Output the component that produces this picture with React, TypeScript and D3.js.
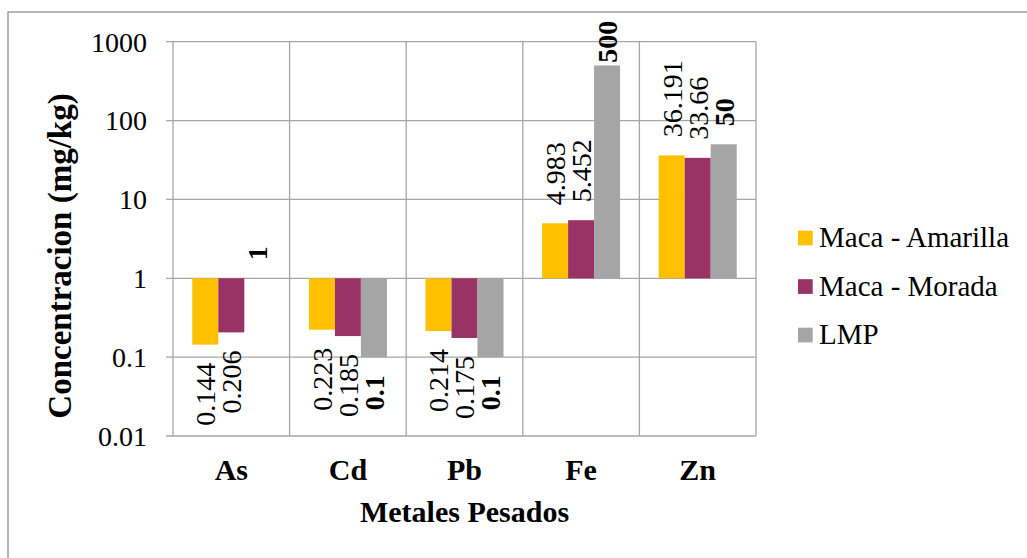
import React from 'react';
import * as d3 from 'd3';

const categories = ['As', 'Cd', 'Pb', 'Fe', 'Zn'];
const seriesNames = ['Maca - Amarilla', 'Maca - Morada', 'LMP'];
const amarilla = [0.144, 0.223, 0.214, 4.983, 36.191];
const morada = [0.206, 0.185, 0.175, 5.452, 33.66];
const lmp = [1, 0.1, 0.1, 500, 50];
const yTicks = [0.01, 0.1, 1, 10, 100, 1000];

const colors = ['#FFC000', '#993366', '#A5A5A5'];
const seriesValues = [amarilla, morada, lmp];
const boldSeries = [false, false, true];

const W = 1027;
const H = 558;
const left = 173;
const right = 756;
const top = 41.7;
const bottom = 436;
const ts = { fontFamily: '"Liberation Serif"' };
const gridColor = '#a6a6a6';

// rough width of a numeric label, digits 0.5em and the dot 0.25em
function labelLen(s: string, fs: number) {
  let n = 0;
  for (const ch of s) n += ch === '.' ? 0.25 : 0.5;
  return n * fs;
}

export default function App() {
  const y = d3.scaleLog().domain([0.01, 1000]).range([bottom, top]);
  const x0 = d3.scaleBand().domain(categories).range([left, right]);
  const x1 = d3.scaleBand().domain(seriesNames).range([0, x0.bandwidth()]).paddingOuter(0.742);
  const base = y(1);
  const labelFs = 28;
  const gap = 18;

  return (
    <svg width={W} height={H} style={{ position: 'absolute', left: 0, top: 0, background: '#fff' }}>
      <rect x={8} y={12} width={1100} height={700} fill="none" stroke="#a0a0a0" strokeWidth={1.5} />

      {yTicks.map(t => (
        <g key={'yt' + t}>
          <line x1={166} x2={right} y1={y(t)} y2={y(t)} stroke={gridColor} strokeWidth={1.3} />
          <text x={147} y={y(t)} dy="0.35em" textAnchor="end" fontSize={28} style={ts}>{String(t)}</text>
        </g>
      ))}

      {[...categories.map(c => x0(c) as number), right].map((gx, i) => (
        <line key={'vg' + i} x1={gx} x2={gx} y1={top} y2={bottom} stroke={gridColor} strokeWidth={1.3} />
      ))}

      {seriesValues.map((vals, si) =>
        vals.map((v, ci) => {
          const bx = (x0(categories[ci]) as number) + (x1(seriesNames[si]) as number);
          const yv = y(v);
          return (
            <rect key={'b' + si + ci} x={bx} y={Math.min(yv, base)} width={x1.bandwidth()}
              height={Math.abs(base - yv)} fill={colors[si]} />
          );
        })
      )}

      {seriesValues.map((vals, si) =>
        vals.map((v, ci) => {
          const cx = (x0(categories[ci]) as number) + (x1(seriesNames[si]) as number) + x1.bandwidth() / 2;
          const s = String(v);
          const yv = y(v);
          let ty: number;
          let anchor: string;
          if (v < 1) {
            ty = yv + gap;
            anchor = 'end';
          } else {
            ty = yv - gap;
            const len = labelLen(s, labelFs);
            if (ty - len < 20.7) ty = 20.7 + len;
            anchor = 'start';
          }
          return (
            <text key={'l' + si + ci} transform={`translate(${cx},${ty}) rotate(-90)`} dy="0.35em"
              textAnchor={anchor} fontSize={labelFs} fontWeight={boldSeries[si] ? 'bold' : 'normal'} style={ts}>{s}</text>
          );
        })
      )}

      {categories.map(c => (
        <text key={'xc' + c} x={(x0(c) as number) + x0.bandwidth() / 2} y={480} textAnchor="middle"
          fontSize={30} fontWeight="bold" style={ts}>{c}</text>
      ))}

      <text x={(left + right) / 2} y={521.7} textAnchor="middle" fontSize={30} fontWeight="bold" style={ts}>Metales Pesados</text>
      <text transform={`translate(71,256) rotate(-90)`} textAnchor="middle" fontSize={33} fontWeight="bold" style={ts}>Concentracion (mg/kg)</text>

      {seriesNames.map((n, i) => (
        <g key={'lg' + n} transform={`translate(798,${238 + i * 48.5})`}>
          <rect x={0} y={-7.3} width={14.7} height={14.7} fill={colors[i]} />
          <text x={21} y={9} fontSize={29} style={ts}>{n}</text>
        </g>
      ))}
    </svg>
  );
}
